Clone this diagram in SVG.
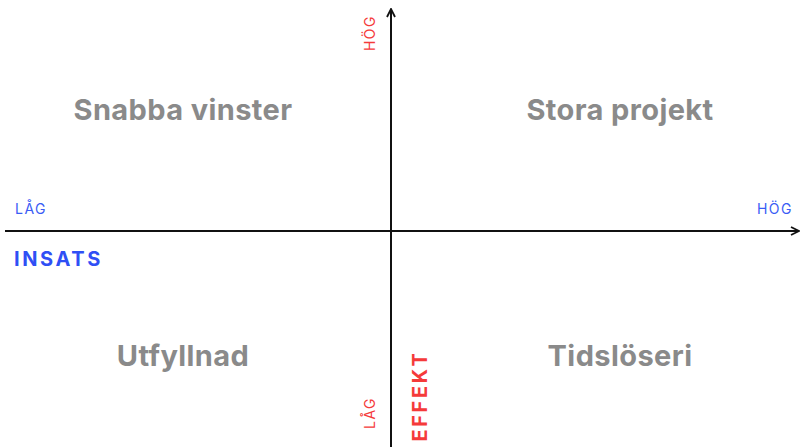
<svg xmlns="http://www.w3.org/2000/svg" width="800" height="447" viewBox="0 0 800 447">
<style>
.q{font-family:Inter,"Open Sans","Liberation Sans",sans-serif;font-weight:700;font-size:29px;fill:#8a8a8a;text-anchor:middle;letter-spacing:0.4px}
.sb{font-family:Inter,"Liberation Sans",sans-serif;font-size:14px;fill:#3a5cf5;letter-spacing:1.5px}
.sr{font-family:Inter,"Liberation Sans",sans-serif;font-size:14px;fill:#f53a3a;letter-spacing:1.5px}
.axis{stroke:#111;stroke-width:2;fill:none}
</style>
<defs>
<marker id="ah" viewBox="0 0 10 10" refX="9" refY="5" markerWidth="10" markerHeight="10" markerUnits="userSpaceOnUse" orient="auto">
<path d="M1,1 L9,5 L1,9" fill="none" stroke="#111" stroke-width="1.8"/>
</marker>
</defs>
<rect width="800" height="447" fill="#fff"/>
<g id="connectors">
<line class="axis" x1="391" y1="447" x2="391" y2="9" marker-end="url(#ah)"/>
<line class="axis" x1="5" y1="231" x2="799" y2="231" marker-end="url(#ah)"/>
</g>
<g id="q1"><text class="q" x="183" y="120">Snabba vinster</text></g>
<g id="q2"><text class="q" x="620" y="120">Stora projekt</text></g>
<g id="q3"><text class="q" x="183" y="366">Utfyllnad</text></g>
<g id="q4"><text class="q" x="620" y="366">Tidslöseri</text></g>
<g id="labels">
<text class="sb" x="15" y="214">LÅG</text>
<text class="sb" x="793" y="214" text-anchor="end">HÖG</text>
<text x="14" y="266" font-family="Inter,'Liberation Sans',sans-serif" font-weight="700" font-size="20" fill="#2f4ff5" letter-spacing="2.6">INSATS</text>
<text class="sr" transform="translate(375,33) rotate(-90)" text-anchor="middle">HÖG</text>
<text class="sr" transform="translate(375,413) rotate(-90)" text-anchor="middle">LÅG</text>
<text transform="translate(427,396) rotate(-90)" text-anchor="middle" font-family="Inter,'Liberation Sans',sans-serif" font-weight="700" font-size="20" fill="#f53a3a" letter-spacing="2.6">EFFEKT</text>
</g>
</svg>
